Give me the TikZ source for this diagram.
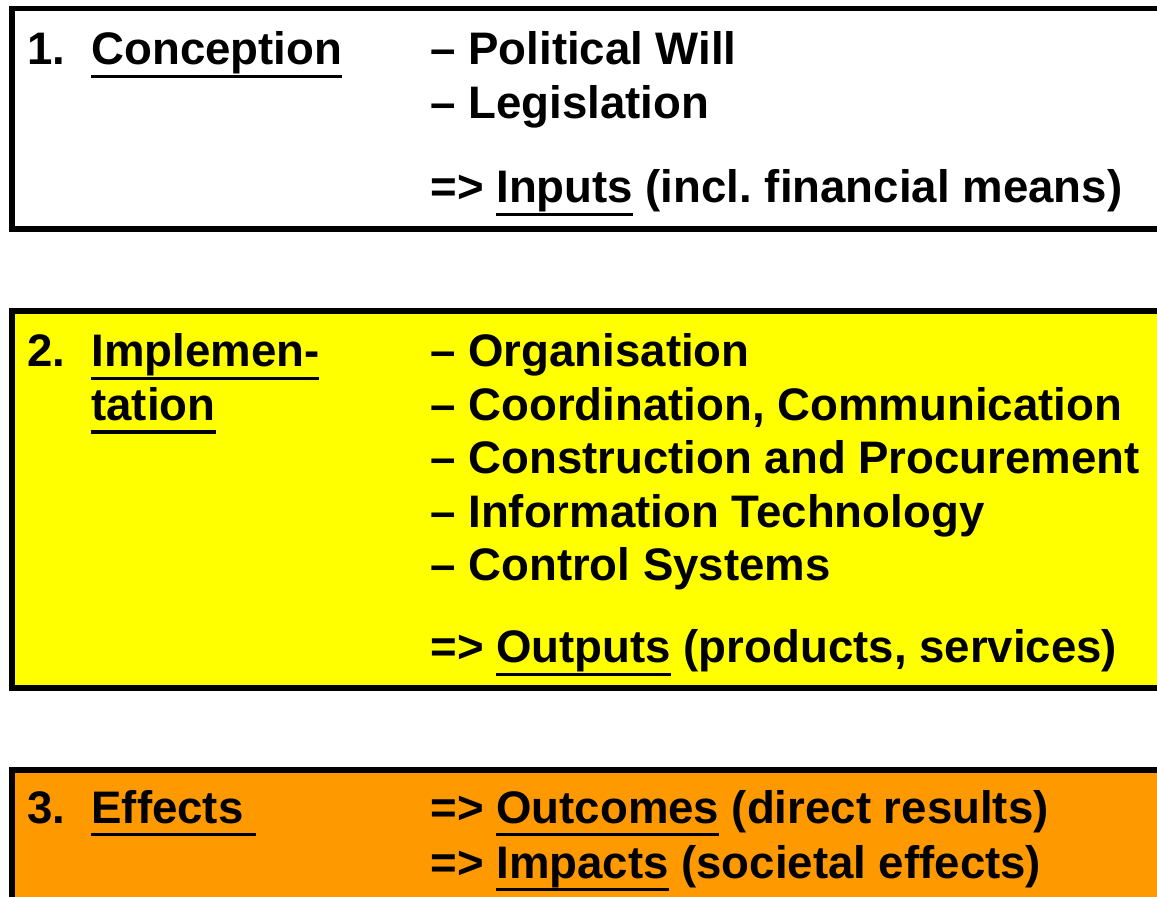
\documentclass[tikz,border=0pt]{standalone}
\usepackage{fontspec}
\setmainfont{Liberation Sans}
\usetikzlibrary{positioning}

\definecolor{phaseyellow}{RGB}{255,255,0}
\definecolor{phaseorange}{RGB}{255,153,0}

% thick underline for the key words
\newcommand{\thickul}[1]{\setbox0\hbox{#1}\rlap{\rule[-6.7pt]{\wd0}{1.9pt}}\box0\relax}
\frenchspacing

\begin{document}
\begin{tikzpicture}[x=0.5pt, y=-0.5pt,
    every node/.style={font=\bfseries\fontsize{22.8}{27}\selectfont, inner sep=0pt, anchor=base west},
    phasebox/.style={draw=black, line width=2.8pt}]
\useasboundingbox (0,0) rectangle (1157,897);
\clip (0,0) rectangle (1157,897);

%the boxes
\draw [phasebox, fill=white] (12,8.5) rectangle (1190,229);
\draw [phasebox, fill=phaseyellow] (12,311) rectangle (1190,688);
\draw [phasebox, fill=phaseorange] (12,770) rectangle (1190,930);

%conception
\node (num1) at (27,65) {1.};
\node (conception) at (91,65) {\thickul{Conception}};
\node (will) at (430,65) {– Political Will};
\node (legis) at (430,119) {– Legislation};
\node (inputs) at (430,203) {=> \thickul{Inputs} (incl. financial means)};

%implementation
\node (num2) at (27,367) {2.};
\node (implem) at (91,367) {\thickul{Implemen-}};
\node (tation) at (91,420.5) {\thickul{tation}};
\node (organ) at (430,367) {– Organisation};
\node (coord) at (430,420.5) {– Coordination, Communication};
\node (constr) at (430,474) {– Construction and Procurement};
\node (infotech) at (430,527.5) {– Information Technology};
\node (control) at (430,581) {– Control Systems};
\node (outputs) at (430,663) {=> \thickul{Outputs} (products, services)};

%effects
\node (num3) at (27,823) {3.};
\node (effects) at (91,823) {\thickul{Effects }};
\node (outcomes) at (430,823) {=> \thickul{Outcomes} (direct results)};
\node (impacts) at (430,878) {=> \thickul{Impacts} (societal effects)};
\end{tikzpicture}
\end{document}
